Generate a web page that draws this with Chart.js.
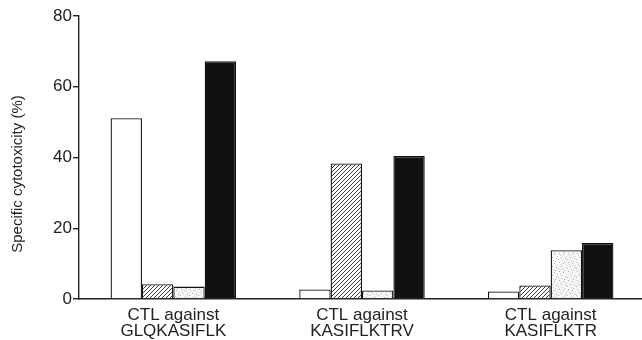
<!DOCTYPE html>
<html>
<head>
<meta charset="utf-8">
<script src="https://cdn.jsdelivr.net/npm/chart.js@4"></script>
<style>
html,body{margin:0;padding:0;background:#fff;overflow:hidden;}
#wrap{width:645px;height:340px;}
</style>
</head>
<body>
<div id="wrap"><canvas id="c" width="645" height="340"></canvas></div>
<script>
const categories = [["CTL against","GLQKASIFLK"],["CTL against","KASIFLKTRV"],["CTL against","KASIFLKTR"]];
const openValues = [51.1, 2.7, 2.1];
const hatchedValues = [4.2, 38.3, 3.8];
const stippledValues = [3.5, 2.4, 13.8];
const solidValues = [67.2, 40.4, 15.8];
const yTicks = [0, 20, 40, 60, 80];
const yTitle = 'Specific cytotoxicity (%)';
const FONT = 'Liberation Sans, Arial, sans-serif';

function hatchPattern(){
  const p = document.createElement('canvas');
  p.width = 4; p.height = 4;
  const g = p.getContext('2d');
  g.fillStyle = '#fff'; g.fillRect(0,0,4,4);
  g.strokeStyle = '#222'; g.lineWidth = 0.9;
  g.beginPath();
  g.moveTo(-1,5); g.lineTo(5,-1);
  g.moveTo(-1,1); g.lineTo(1,-1);
  g.moveTo(3,5); g.lineTo(5,3);
  g.stroke();
  return g.createPattern(p,'repeat');
}
function stipplePattern(){
  const p = document.createElement('canvas');
  p.width = 9; p.height = 9;
  const g = p.getContext('2d');
  g.fillStyle = '#f6f6f6'; g.fillRect(0,0,9,9);
  g.fillStyle = '#b0b0b0';
  [[1,1],[5,2],[3,5],[7,6],[0,7],[6,0]].forEach(([x,y])=>g.fillRect(x,y,1,1));
  g.fillStyle = '#d0d0d0';
  [[2,3],[8,4],[4,8]].forEach(([x,y])=>g.fillRect(x,y,1,1));
  return g.createPattern(p,'repeat');
}
const yTitlePlugin = {
  id:'yTitle',
  afterDraw(chart){
    const c = chart.ctx;
    c.save();
    c.translate(18, 174);
    c.rotate(-Math.PI/2);
    c.fillStyle = '#222';
    c.font = '15px ' + FONT;
    c.textAlign = 'center';
    c.textBaseline = 'middle';
    c.fillText(yTitle, 0, 0);
    c.restore();
  }
};
const ctx = document.getElementById('c').getContext('2d');
const common = {borderColor:'#111', borderWidth:1.3, borderSkipped:'bottom', categoryPercentage:0.665, barPercentage:1.0};
new Chart(ctx, {
  type:'bar',
  data:{
    labels: categories,
    datasets:[
      Object.assign({label:'open', data:openValues, backgroundColor:'#fff'}, common),
      Object.assign({label:'hatched', data:hatchedValues, backgroundColor:hatchPattern()}, common),
      Object.assign({label:'stippled', data:stippledValues, backgroundColor:stipplePattern()}, common),
      Object.assign({label:'solid', data:solidValues, backgroundColor:'#111'}, common)
    ]
  },
  options:{
    responsive:false, animation:false,
    layout:{padding:{left:0,right:0,top:16,bottom:0}},
    plugins:{legend:{display:false}, tooltip:{enabled:false}},
    scales:{
      x:{
        grid:{display:false, drawTicks:false},
        border:{display:true,color:'#222',width:1.4},
        ticks:{color:'#222',font:{family:FONT,size:17,lineHeight:0.95},padding:8,maxRotation:0,autoSkip:false},
        afterFit(s){s.height=41;}
      },
      y:{
        min:0,max:80,
        afterBuildTicks(s){s.ticks = yTicks.map(v=>({value:v}));},
        grid:{display:true,drawOnChartArea:false,drawTicks:true,tickLength:6,color:'#222',lineWidth:1.4},
        border:{display:true,color:'#222',width:1.4},
        ticks:{color:'#222',font:{family:FONT,size:17},padding:1},
        title:{display:false},
        afterFit(s){s.width=79;}
      }
    }
  },
  plugins:[yTitlePlugin]
});
</script>
</body>
</html>
